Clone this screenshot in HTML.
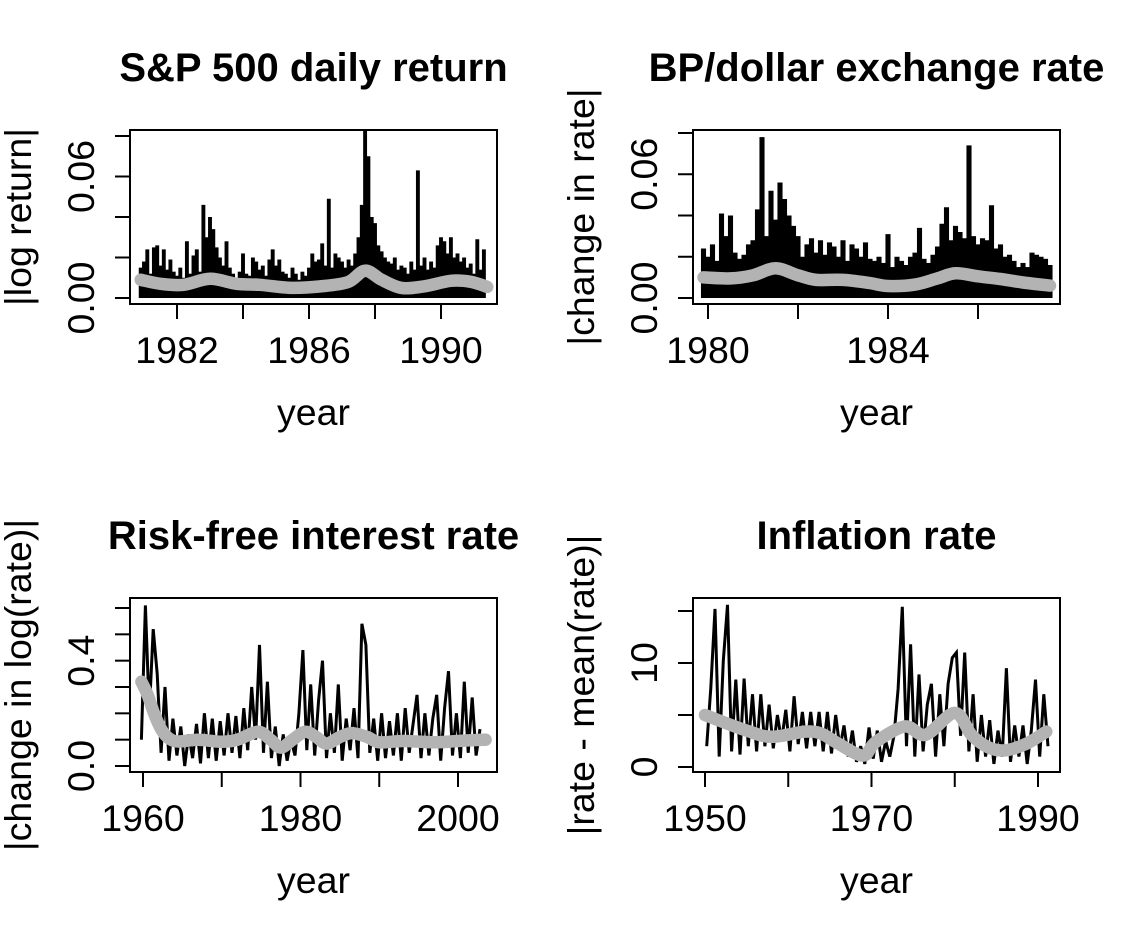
<!DOCTYPE html>
<html><head><meta charset="utf-8">
<style>
html,body{margin:0;padding:0;background:#fff;}
svg{display:block;font-family:"Liberation Sans",Arial,sans-serif;}
</style></head>
<body>
<svg id="chart" width="1128" height="936" viewBox="0 0 1128 936"></svg>
<script>
// ---- Panel 1: S&P 500 ----
const spStartYear = 1980.9, spStep = 0.1;
const spValues = [.015,
 .018,.024,.012,.025,.026,.016,.024,.014,.019,.013,
 .011,.015,.010,.028,.012,.021,.024,.013,.046,.030,
 .040,.034,.025,.020,.016,.028,.015,.012,.010,.013,
 .022,.012,.011,.020,.018,.014,.016,.011,.019,.024,
 .016,.019,.013,.012,.010,.015,.012,.009,.013,.011,
 .015,.022,.018,.019,.027,.016,.049,.015,.022,.020,
 .018,.015,.019,.016,.022,.030,.046,.083,.070,.040,
 .037,.026,.023,.020,.018,.017,.020,.014,.016,.015,
 .012,.018,.014,.063,.016,.020,.014,.018,.015,.026,
 .030,.028,.022,.030,.020,.022,.018,.020,.015,.017,
 .012,.029,.014,.024];
const spSmoothYears = [1980.9,1981.5,1982.2,1983.0,1983.8,1984.5,1985.5,1986.5,1987.2,1987.7,1988.2,1988.8,1989.5,1990.3,1990.9,1991.4];
const spSmoothVals  = [.009,.007,.0065,.0095,.007,.0065,.005,.006,.008,.0135,.009,.005,.0058,.0085,.008,.0055];
const spYTicks = [0,0.02,0.04,0.06,0.08];
const spYLabels = ["0.00","","","0.06",""];
const spXTicks = [1982,1984,1986,1988,1990];
const spXLabels = ["1982","","1986","","1990"];

// ---- Panel 2: BP/dollar ----
const bpStartYear = 1979.9, bpStep = 0.1;
const bpValues = [.024,
 .020,.026,.018,.041,.030,.040,.022,.019,.021,.026,
 .028,.043,.078,.030,.052,.038,.056,.048,.040,.035,
 .030,.020,.026,.029,.022,.028,.021,.027,.025,.020,
 .028,.018,.026,.024,.020,.027,.019,.018,.020,.017,
 .031,.015,.020,.018,.016,.020,.022,.034,.019,.017,
 .021,.025,.036,.044,.028,.035,.032,.029,.074,.030,
 .026,.029,.028,.045,.024,.026,.020,.021,.018,.015,
 .017,.015,.022,.021,.020,.019,.016];
const bpSmoothYears = [1979.9,1980.5,1981.0,1981.5,1982.0,1982.4,1983.0,1983.6,1984.0,1984.6,1985.1,1985.5,1986.0,1986.5,1987.0,1987.6];
const bpSmoothVals  = [.010,.0095,.011,.0144,.011,.0088,.0088,.0072,.0058,.0065,.0095,.012,.0105,.0092,.0075,.006];
const bpYTicks = [0,0.02,0.04,0.06,0.08];
const bpYLabels = ["0.00","","","0.06",""];
const bpXTicks = [1980,1982,1984,1986];
const bpXLabels = ["1980","","1984",""];

// ---- Panel 3: Risk-free rate ----
const rfStartYear = 1959.8, rfStep = 0.5;
const rfValues = [.10,.61,.20,.52,.35,.05,.30,.02,.18,.04,
 .15,.00,.12,.03,.16,.01,.20,.03,.18,.02,
 .17,.04,.20,.05,.19,.03,.22,.06,.30,.10,
 .46,.05,.32,.03,.15,.00,.12,.02,.10,.04,
 .20,.44,.06,.31,.04,.25,.40,.03,.20,.05,
 .31,.02,.18,.06,.22,.03,.54,.46,.05,.18,
 .02,.20,.03,.17,.04,.20,.02,.22,.05,.16,
 .27,.03,.20,.04,.18,.27,.02,.22,.36,.04,
 .20,.03,.32,.05,.26,.04,.14];
const rfSmoothYears = [1959.8,1960.6,1961.4,1962.3,1963.3,1964.5,1967,1970,1972,1974.6,1976.2,1977.5,1979,1980.6,1982,1983.3,1985,1986.5,1988.5,1990,1993,1997,2000,2003.5];
const rfSmoothVals  = [.32,.27,.20,.14,.105,.093,.10,.092,.10,.13,.10,.07,.10,.13,.11,.085,.11,.125,.11,.09,.095,.09,.095,.10];
const rfYTicks = [0,0.1,0.2,0.3,0.4,0.5,0.6];
const rfYLabels = ["0.0","","","","0.4","",""];
const rfXTicks = [1960,1970,1980,1990,2000];
const rfXLabels = ["1960","","1980","","2000"];

// ---- Panel 4: Inflation ----
const inStartYear = 1950.2, inStep = 0.5;
const inValues = [2.0,7.6,15.2,1.0,10.2,15.6,1.5,8.4,1.2,8.5,
 2.0,7.0,1.5,7.0,2.0,6.0,1.8,5.0,2.5,5.5,
 1.5,6.8,2.2,5.3,1.8,5.3,2.0,5.3,1.5,5.3,
 1.3,5.0,1.8,4.0,1.0,3.5,0.5,2.0,0.3,3.8,
 0.8,3.5,0.5,2.5,1.0,3.0,7.5,15.4,2.0,11.8,
 1.0,8.9,1.5,6.0,8.0,1.0,7.0,2.0,8.0,10.5,
 11.0,3.0,11.0,1.5,7.0,0.5,5.0,1.0,4.5,0.3,
 3.5,1.0,9.5,0.5,4.0,1.0,4.0,0.3,3.5,8.4,
 1.0,7.0,2.0];
const inSmoothYears = [1950,1955,1958,1962,1964,1966,1969,1970.5,1974,1976.5,1980,1982,1984,1986,1988.5,1991];
const inSmoothVals  = [5.0,3.5,2.9,3.4,3.2,2.25,1.1,2.4,3.9,3.1,5.2,3.1,1.9,1.6,2.2,3.4];
const inYTicks = [0,5,10,15];
const inYLabels = ["0","","10",""];
const inXTicks = [1950,1960,1970,1980,1990];
const inXLabels = ["1950","","1970","","1990"];

const NS = "http://www.w3.org/2000/svg";
const svg = document.getElementById('chart');
function mk(tag, attrs, parent) {
  const e = document.createElementNS(NS, tag);
  for (const k in attrs) e.setAttribute(k, attrs[k]);
  (parent || svg).appendChild(e);
  return e;
}
function smoothPath(pts) {
  let d = "M" + pts[0][0].toFixed(1) + "," + pts[0][1].toFixed(1);
  for (let i = 0; i < pts.length - 1; i++) {
    const p0 = pts[Math.max(0, i - 1)], p1 = pts[i], p2 = pts[i + 1], p3 = pts[Math.min(pts.length - 1, i + 2)];
    const c1x = p1[0] + (p2[0] - p0[0]) / 6, c1y = p1[1] + (p2[1] - p0[1]) / 6;
    const c2x = p2[0] - (p3[0] - p1[0]) / 6, c2y = p2[1] - (p3[1] - p1[1]) / 6;
    d += "C" + c1x.toFixed(1) + "," + c1y.toFixed(1) + " " + c2x.toFixed(1) + "," + c2y.toFixed(1) + " " + p2[0].toFixed(1) + "," + p2[1].toFixed(1);
  }
  return d;
}

function drawPanel(cfg) {
  const g = mk('g', {});
  
  
  const L = cfg.box[0], T = cfg.box[1], R = cfg.box[2], B = cfg.box[3];
  const xs = v => cfg.xPx[0] + (v - cfg.xDom[0]) / (cfg.xDom[1] - cfg.xDom[0]) * (cfg.xPx[1] - cfg.xPx[0]);
  const ys = v => cfg.yPx[0] + (v - cfg.yDom[0]) / (cfg.yDom[1] - cfg.yDom[0]) * (cfg.yPx[1] - cfg.yPx[0]);
  const clipId = cfg.name + '-clip';
  const cp = mk('clipPath', {id: clipId}, g);
  mk('rect', {x: L, y: T, width: R - L, height: B - T}, cp);
  const dg = mk('g', {'clip-path': 'url(#' + clipId + ')'}, g);
  
  
  if (cfg.mode === 'h') {
    const slot = Math.abs(xs(cfg.start + cfg.step) - xs(cfg.start));
    cfg.values.forEach((v, i) => {
      const x = xs(cfg.start + i * cfg.step);
      const ln = mk('line', {x1: x, x2: x, y1: ys(0), y2: ys(v), stroke: '#000', 'stroke-width': slot + 0.6}, dg);
      
      
    });
  } else {
    const pts = cfg.values.map((v, i) => xs(cfg.start + i * cfg.step).toFixed(1) + ',' + ys(v).toFixed(1)).join(' ');
    const pl = mk('polyline', {points: pts, fill: 'none', stroke: '#000', 'stroke-width': 3, 'stroke-linejoin': 'miter'}, dg);
    
    
  }
  const sp = cfg.smoothYears.map((yr, i) => [xs(yr), ys(cfg.smoothVals[i])]);
  const sm = mk('path', {d: smoothPath(sp), fill: 'none', stroke: '#b3b3b3', 'stroke-width': 12.5, 'stroke-linecap': 'round', 'stroke-linejoin': 'round'}, g);
  
  
  const box = mk('rect', {x: L, y: T, width: R - L, height: B - T, fill: 'none', stroke: '#000', 'stroke-width': 2}, g);
  
  
  cfg.yTicks.forEach((t, i) => {
    const y = ys(t);
    const tk = mk('line', {x1: L - 15, x2: L, y1: y, y2: y, stroke: '#000', 'stroke-width': 2}, g);
    
    
    if (cfg.yLabels[i]) {
      const tx = mk('text', {x: 0, y: 0, transform: 'translate(' + (L - 36) + ',' + y + ') rotate(-90)', 'text-anchor': 'middle', 'font-size': 37.5}, g);
      tx.textContent = cfg.yLabels[i];
      
      
    }
  });
  cfg.xTicks.forEach((t, i) => {
    const x = xs(t);
    const tk = mk('line', {x1: x, x2: x, y1: B, y2: B + 15, stroke: '#000', 'stroke-width': 2}, g);
    
    
    if (cfg.xLabels[i]) {
      const tx = mk('text', {x: x, y: B + 59, 'text-anchor': 'middle', 'font-size': 37.5}, g);
      tx.textContent = cfg.xLabels[i];
      
      
    }
  });
  const title = mk('text', {x: (L + R) / 2, y: T - 49, 'text-anchor': 'middle', 'font-size': 40, 'font-weight': 'bold'}, g);
  title.textContent = cfg.title;
  
  
  const xl = mk('text', {x: (L + R) / 2, y: B + 121, 'text-anchor': 'middle', 'font-size': 37.5}, g);
  xl.textContent = 'year';
  
  
  const yl = mk('text', {x: 0, y: 0, transform: 'translate(' + (L - 99) + ',' + ((T + B) / 2) + ') rotate(-90)', 'text-anchor': 'middle', 'font-size': 37.5}, g);
  yl.textContent = cfg.yTitle;
  
  
}

drawPanel({name: 'sp500-panel', title: 'S&P 500 daily return', yTitle: '|log return|', mode: 'h',
  box: [130, 130, 497, 304], xDom: [1982, 1990], xPx: [177, 441], yDom: [0, 0.08], yPx: [298, 136],
  values: spValues, start: spStartYear, step: spStep, smoothYears: spSmoothYears, smoothVals: spSmoothVals,
  yTicks: spYTicks, yLabels: spYLabels, xTicks: spXTicks, xLabels: spXLabels});
drawPanel({name: 'bp-dollar-panel', title: 'BP/dollar exchange rate', yTitle: '|change in rate|', mode: 'h',
  box: [693, 130, 1060, 304], xDom: [1980, 1986], xPx: [708, 978], yDom: [0, 0.08], yPx: [298, 133],
  values: bpValues, start: bpStartYear, step: bpStep, smoothYears: bpSmoothYears, smoothVals: bpSmoothVals,
  yTicks: bpYTicks, yLabels: bpYLabels, xTicks: bpXTicks, xLabels: bpXLabels});
drawPanel({name: 'risk-free-panel', title: 'Risk-free interest rate', yTitle: '|change in log(rate)|', mode: 'l',
  box: [130, 598, 497, 772], xDom: [1960, 2000], xPx: [143, 458], yDom: [0, 0.6], yPx: [766, 608],
  values: rfValues, start: rfStartYear, step: rfStep, smoothYears: rfSmoothYears, smoothVals: rfSmoothVals,
  yTicks: rfYTicks, yLabels: rfYLabels, xTicks: rfXTicks, xLabels: rfXLabels});
drawPanel({name: 'inflation-panel', title: 'Inflation rate', yTitle: '|rate - mean(rate)|', mode: 'l',
  box: [693, 598, 1060, 772], xDom: [1950, 1990], xPx: [705, 1038], yDom: [0, 15], yPx: [767, 611],
  values: inValues, start: inStartYear, step: inStep, smoothYears: inSmoothYears, smoothVals: inSmoothVals,
  yTicks: inYTicks, yLabels: inYLabels, xTicks: inXTicks, xLabels: inXLabels});
</script>
</body></html>
